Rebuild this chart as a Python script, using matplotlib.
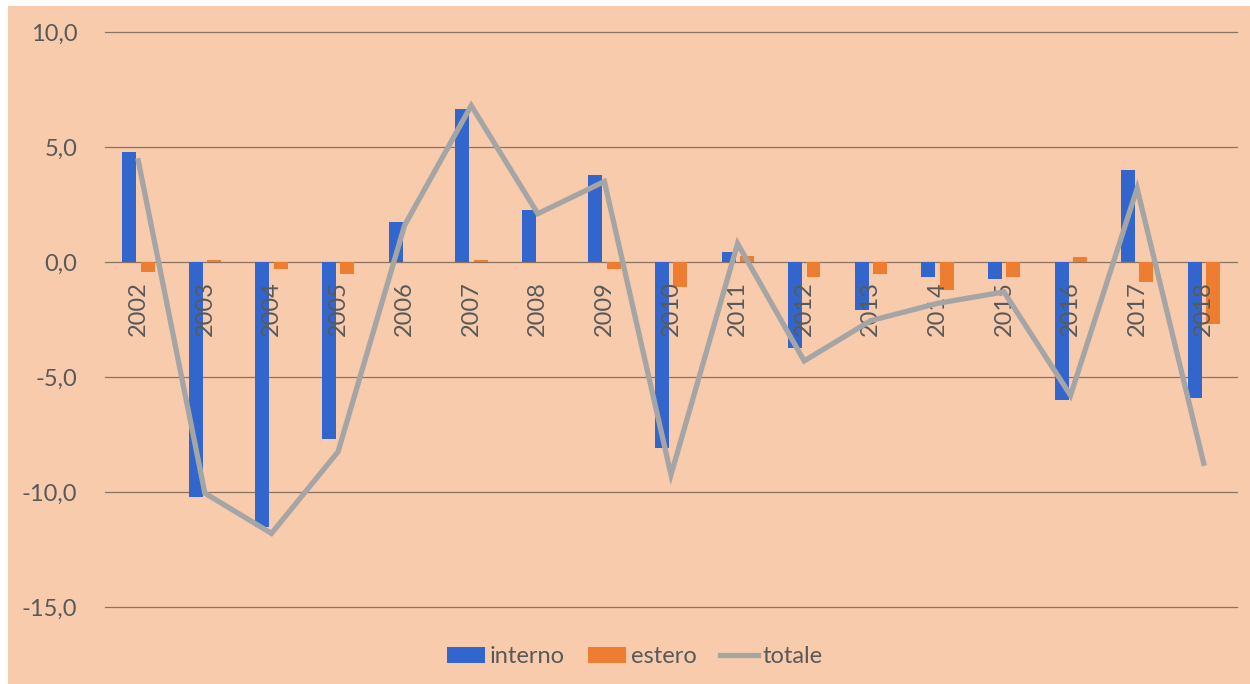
import numpy as np
import matplotlib
matplotlib.use("Agg")
from matplotlib import pyplot as plt
from matplotlib.patches import Rectangle
from matplotlib.ticker import FuncFormatter

years = ["2002", "2003", "2004", "2005", "2006", "2007", "2008", "2009", "2010",
         "2011", "2012", "2013", "2014", "2015", "2016", "2017", "2018"]
interno = [4.8, -10.2, -11.5, -7.7, 1.75, 6.65, 2.25, 3.8, -8.1,
           0.45, -3.75, -2.1, -0.65, -0.75, -6.0, 4.0, -5.9]
estero = [-0.45, 0.1, -0.3, -0.5, 0.0, 0.1, 0.0, -0.3, -1.1,
          0.25, -0.65, -0.5, -1.2, -0.65, 0.2, -0.85, -2.7]
totale = [4.4, -10.05, -11.8, -8.25, 1.6, 6.8, 2.1, 3.5, -9.25,
          0.8, -4.3, -2.55, -1.8, -1.3, -5.8, 3.2, -8.75]

peach = "#F8CBAD"
txt = "#595959"
plt.rcParams["font.family"] = ["Lato", "DejaVu Sans"]

fig = plt.figure(figsize=(12.5, 6.84), dpi=100, facecolor="white")
# peach chart area (small white border top and left as in the screenshot)
fig.patches.append(Rectangle((8 / 1250, 0), 1, 1 - 6 / 684, transform=fig.transFigure,
                             facecolor=peach, edgecolor="none", zorder=-1))

ax = fig.add_axes([105 / 1250, 1 - 607 / 684, (1237 - 105) / 1250, (607 - 32) / 684])
ax.set_facecolor("none")

x = np.arange(len(years))
w = 0.21
b1 = ax.bar(x - 0.135, interno, w, color="#3366CC", label="interno", zorder=1)
b2 = ax.bar(x + 0.14, estero, w, color="#ED7D31", label="estero", zorder=1)
l1, = ax.plot(x, totale, color="#A5A5A5", lw=3.8, label="totale", zorder=3,
              solid_joinstyle="miter")

# gridlines behind the bars
for yv in [-15, -10, -5, 0, 5, 10]:
    ax.axhline(yv, color="#8C7361", lw=0.9, zorder=0.5, clip_on=False)

ax.set_xlim(-0.5, len(years) - 0.5)
ax.set_ylim(-15, 10)
ax.set_yticks([-15, -10, -5, 0, 5, 10])
ax.yaxis.set_major_formatter(FuncFormatter(lambda v, p: f"{v:.1f}".replace(".", ",")))
ax.tick_params(axis="y", length=0, pad=20, labelsize=17, labelcolor=txt)

ax.set_xticks(x)
ax.set_xticklabels(years)
ax.spines["bottom"].set_position(("data", 0))
ax.tick_params(axis="x", length=0, pad=14, labelsize=17, labelcolor=txt,
               labelrotation=90)
for s in ax.spines.values():
    s.set_visible(False)

fig.legend([b1, b2, l1], ["interno", "estero", "totale"], loc="center",
           bbox_to_anchor=(0.508, 0.04), ncol=3, frameon=False,
           fontsize=17, labelcolor=txt, handlelength=1.6, handleheight=0.7,
           handletextpad=0.2, columnspacing=1.0)

fig.savefig("out.png", dpi=100, facecolor=fig.get_facecolor())
